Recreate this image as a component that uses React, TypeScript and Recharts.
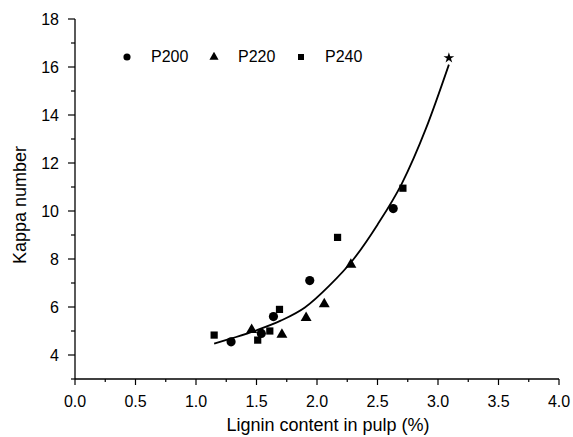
import { ComposedChart, Scatter, Line, XAxis, YAxis, Legend, Label, Symbols } from 'recharts';

// lignin content (%) vs kappa number
const p200 = [
  { x: 1.29, y: 4.55 },
  { x: 1.54, y: 4.9 },
  { x: 1.64, y: 5.6 },
  { x: 1.94, y: 7.1 },
  { x: 2.63, y: 10.1 },
];
const p220 = [
  { x: 1.46, y: 5.05 },
  { x: 1.71, y: 4.85 },
  { x: 1.91, y: 5.55 },
  { x: 2.06, y: 6.12 },
  { x: 2.28, y: 7.77 },
];
const p240 = [
  { x: 1.15, y: 4.83 },
  { x: 1.51, y: 4.62 },
  { x: 1.61, y: 5.0 },
  { x: 1.69, y: 5.9 },
  { x: 2.17, y: 8.9 },
  { x: 2.71, y: 10.95 },
];
const starPoint = [{ x: 3.09, y: 16.38 }];
// fitted curve, sampled along the drawn line
const fitCurve = [
  { x: 1.15, y: 4.47 },
  { x: 1.3, y: 4.7 },
  { x: 1.5, y: 5.03 },
  { x: 1.7, y: 5.43 },
  { x: 1.9, y: 5.98 },
  { x: 2.1, y: 6.88 },
  { x: 2.3, y: 7.98 },
  { x: 2.5, y: 9.43 },
  { x: 2.7, y: 11.13 },
  { x: 2.9, y: 13.43 },
  { x: 3.09, y: 16.1 },
];

const xTicks = [0, 0.25, 0.5, 0.75, 1, 1.25, 1.5, 1.75, 2, 2.25, 2.5, 2.75, 3, 3.25, 3.5, 3.75, 4];
const yTicks = [3, 4, 5, 6, 7, 8, 9, 10, 11, 12, 13, 14, 15, 16, 17, 18];

const series = [
  { name: 'P200', shape: 'circle', data: p200 },
  { name: 'P220', shape: 'triangle', data: p220 },
  { name: 'P240', shape: 'square', data: p240 },
];

const FONT = '"Liberation Sans", Arial, sans-serif';
const symbolSize: Record<string, number> = { circle: 66, triangle: 52, square: 52, star: 36 };
const legendSize: Record<string, number> = { circle: 40, triangle: 36, square: 36 };

const XTick = (props: any) => {
  const { x, y, payload } = props;
  const v = payload.value;
  const major = Math.abs(v * 2 - Math.round(v * 2)) < 1e-6;
  return (
    <g>
      <line x1={x} y1={y} x2={x} y2={y + (major ? 6 : 3)} stroke="#000" strokeWidth={1.2} />
      {major && (
        <text x={x} y={y + 17} dy="0.71em" textAnchor="middle" fontSize={16} fontFamily={FONT} fill="#000">
          {v.toFixed(1)}
        </text>
      )}
    </g>
  );
};

const YTick = (props: any) => {
  const { x, y, payload } = props;
  const v = payload.value;
  const major = v % 2 === 0;
  return (
    <g>
      <line x1={x} y1={y} x2={x - (major ? 7 : 4)} y2={y} stroke="#000" strokeWidth={1.2} />
      {major && (
        <text x={x - 16} y={y} dy="0.355em" textAnchor="end" fontSize={16} fontFamily={FONT} fill="#000">
          {v}
        </text>
      )}
    </g>
  );
};

// zero-height box so the legend takes no room from the plot
const renderLegend = () => (
  <div style={{ height: 0, overflow: 'visible' }}>
    <div style={{ display: 'flex', fontFamily: FONT, fontSize: 16, color: '#000', lineHeight: '20px' }}>
      {series.map((s) => (
        <div key={s.name} style={{ display: 'flex', alignItems: 'center', width: 87 }}>
          <svg width={10} height={10} style={{ display: 'block' }}>
            <Symbols cx={5} cy={5} type={s.shape as any} size={legendSize[s.shape]} fill="#000" />
          </svg>
          <span style={{ marginLeft: 19 }}>{s.name}</span>
        </div>
      ))}
    </div>
  </div>
);

export default function App() {
  return (
    <div style={{ position: 'absolute', left: 0, top: 0, width: 573, height: 437, background: '#fff' }}>
      <ComposedChart width={573} height={437} margin={{ top: 19, right: 14, bottom: 0, left: 0 }}>
        <XAxis
          dataKey="x"
          type="number"
          domain={[0, 4]}
          ticks={xTicks}
          interval={0}
          tickSize={0}
          tickMargin={0}
          tickLine={false}
          tick={<XTick />}
          height={58}
          axisLine={{ stroke: '#000', strokeWidth: 1.3 }}
          allowDataOverflow
        >
          <Label
            content={({ viewBox }: any) => (
              <text
                x={viewBox.x + viewBox.width / 2 + 11}
                y={viewBox.y + 52}
                textAnchor="middle"
                fontSize={18}
                fontFamily={FONT}
                fill="#000"
              >
                Lignin content in pulp (%)
              </text>
            )}
          />
        </XAxis>
        <YAxis
          type="number"
          domain={[3, 18]}
          ticks={yTicks}
          interval={0}
          tickSize={0}
          tickMargin={0}
          tickLine={false}
          tick={<YTick />}
          width={75}
          axisLine={{ stroke: '#000', strokeWidth: 1.3 }}
          allowDataOverflow
        >
          <Label
            content={({ viewBox }: any) => {
              const cx = viewBox.x + 20;
              const cy = viewBox.y + viewBox.height / 2 + 6;
              return (
                <text
                  x={cx}
                  y={cy}
                  transform={`rotate(-90, ${cx}, ${cy})`}
                  textAnchor="middle"
                  dominantBaseline="central"
                  fontSize={18}
                  fontFamily={FONT}
                  fill="#000"
                >
                  Kappa number
                </text>
              );
            }}
          />
        </YAxis>
        <Legend
          content={renderLegend}
          wrapperStyle={{ position: 'absolute', left: 122, top: 47, width: 'auto', height: 0 }}
        />
        <Line
          data={fitCurve}
          dataKey="y"
          type="monotone"
          stroke="#000"
          strokeWidth={1.8}
          dot={false}
          activeDot={false}
          legendType="none"
          isAnimationActive={false}
        />
        {series.map((s) => (
          <Scatter
            key={s.name}
            name={s.name}
            data={s.data}
            dataKey="y"
            fill="#000"
            isAnimationActive={false}
            shape={(p: any) => (
              <Symbols cx={p.cx} cy={p.cy} type={s.shape as any} size={symbolSize[s.shape]} fill="#000" />
            )}
          />
        ))}
        <Scatter
          data={starPoint}
          dataKey="y"
          fill="#000"
          legendType="none"
          isAnimationActive={false}
          shape={(p: any) => <Symbols cx={p.cx} cy={p.cy} type="star" size={symbolSize.star} fill="#000" />}
        />
      </ComposedChart>
    </div>
  );
}
